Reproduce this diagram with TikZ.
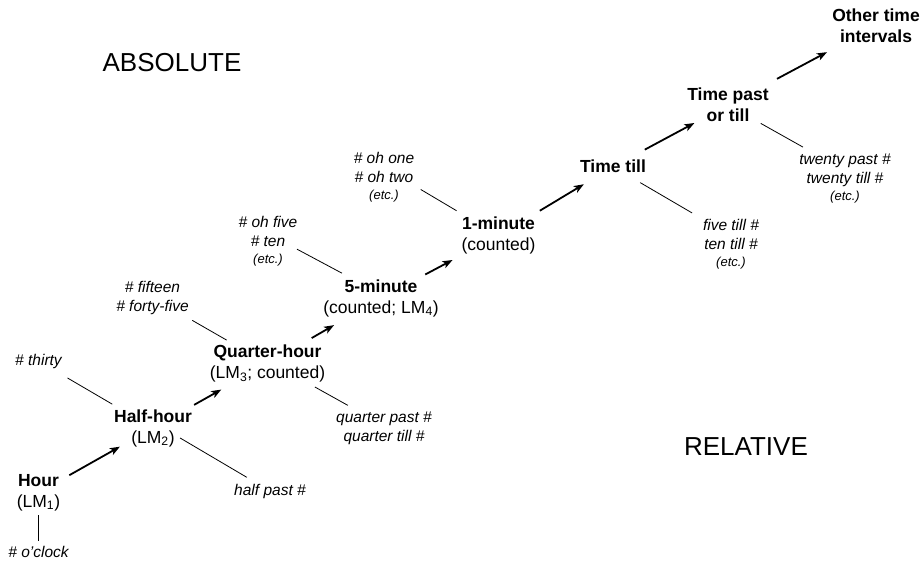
\documentclass[tikz,border=0pt]{standalone}
\usepackage{fontspec}
\setmainfont{Liberation Sans}
\usetikzlibrary{arrows.meta}
\newcommand\etcnote{{\fontsize{13}{15}\selectfont (etc.)}}
\begin{document}
\begin{tikzpicture}[x=1pt,y=-1pt,
  unit/.style={align=center,inner sep=0pt,font=\fontsize{17.5}{21}\selectfont},
  ex/.style={align=center,inner sep=0pt,font=\fontsize{15.5}{19}\selectfont\itshape},
  region/.style={inner sep=0pt,font=\fontsize{26}{30}\selectfont},
  adv/.style={line width=1.8pt,-{Stealth[length=10pt,width=7.5pt,inset=2.5pt]}},
  link/.style={line width=0.8pt}]
\useasboundingbox (0,0) rectangle (923,567);

% time units
\node[unit] (hour) at (38.5,492.6) {\textbf{Hour}\\(LM\textsubscript{1})};
\node[unit] (half) at (153,428) {\textbf{Half-hour}\\(LM\textsubscript{2})};
\node[unit] (quarter) at (267.5,363.6) {\textbf{Quarter-hour}\\(LM\textsubscript{3}; counted)};
\node[unit] (five) at (381,298) {\textbf{5-minute}\\(counted; LM\textsubscript{4})};
\node[unit] (one) at (498.5,235.6) {\textbf{1-minute}\\(counted)};
\node[unit] (till) at (613,166.7) {\textbf{Time till}};
\node[unit] (pastortill) at (728,105) {\textbf{Time past}\\\textbf{or till}};
\node[unit] (other) at (876,26) {\textbf{Other time}\\\textbf{intervals}};

% example expressions
\node[ex] (oclock) at (38.5,552.4) {\# o'clock};
\node[ex] (thirty) at (38.5,361) {\# thirty};
\node[ex] (halfpast) at (270,491) {half past \#};
\node[ex] (fifteen) at (152.5,297.5) {\# fifteen\\\# forty-five};
\node[ex] (qpast) at (384,428.5) {quarter past \#\\quarter till \#};
\node[ex] (ohfive) at (268,241.7) {\# oh five\\\# ten\\[-2pt]\etcnote};
\node[ex] (ohone) at (384,177.7) {\# oh one\\\# oh two\\[-2pt]\etcnote};
\node[ex] (fivetill) at (731,244.7) {five till \#\\ten till \#\\[-2pt]\etcnote};
\node[ex] (twenty) at (845,178.7) {twenty past \#\\twenty till \#\\[-2pt]\etcnote};

% regions
\node[region] (absolute) at (172,62.5) {ABSOLUTE};
\node[region] (relative) at (746,447) {RELATIVE};

% progression arrows
\draw[adv,shorten <=35.4pt,shorten >=38pt] (hour.center) -- (half.center);
\draw[adv,shorten <=47.2pt,shorten >=53pt] (half.center) -- (quarter.center);
\draw[adv,shorten <=51pt,shorten >=54.2pt] (quarter.center) -- (five.center);
\draw[adv,shorten <=50.1pt,shorten >=52pt] (five.center) -- (one.center);
\draw[adv,shorten <=48.2pt,shorten >=34pt] (one.center) -- (till.center);
\draw[adv,shorten <=36.1pt,shorten >=38.1pt] (till.center) -- (pastortill.center);
\draw[adv,shorten <=55.5pt,shorten >=55.5pt] (pastortill.center) -- (other.center);

% example links
\draw[link,shorten <=22.4pt,shorten >=11.4pt] (hour.center) -- (oclock.center);
\draw[link,shorten <=33.6pt,shorten >=47.2pt] (thirty.center) -- (half.center);
\draw[link,shorten <=31.4pt,shorten >=26.9pt] ([yshift=6pt]half.center) -- (halfpast.center);
\draw[link,shorten <=45.9pt,shorten >=47.1pt] (fifteen.center) -- (quarter.center);
\draw[link,shorten <=54.3pt,shorten >=41.4pt] ([yshift=3pt]quarter.center) -- ([yshift=3pt]qpast.center);
\draw[link,shorten <=32.8pt,shorten >=44.3pt] ([yshift=8pt]ohfive.center) -- ([yshift=4pt]five.center);
\draw[link,shorten <=42.7pt,shorten >=48.8pt] ([yshift=10pt]ohone.center) -- (one.center);
\draw[link,shorten <=31.5pt,shorten >=45.1pt] (till.center) -- ([yshift=9pt]fivetill.center);
\draw[link,shorten <=37.6pt,shorten >=48.2pt] (pastortill.center) -- ([yshift=8pt]twenty.center);
\end{tikzpicture}
\end{document}
